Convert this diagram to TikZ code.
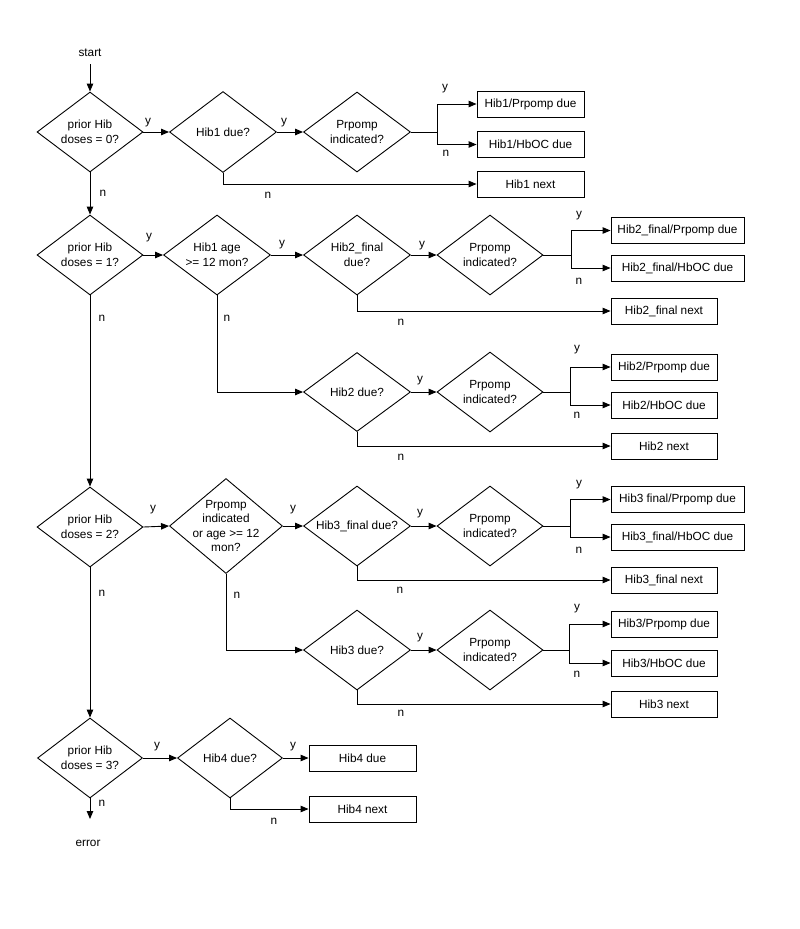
\documentclass[tikz,border=0pt]{standalone}
\usepackage{fontspec}
\setmainfont{Liberation Sans}
\usetikzlibrary{shapes.geometric,arrows.meta}
\newcommand{\fsz}{\fontsize{11.8}{14.5}\selectfont}
\tikzset{
  dia/.style={draw, shape=diamond, inner sep=0pt, line width=0.9pt},
  txt/.style={align=center, font=\fsz, inner sep=0pt},
  box/.style={draw, rectangle, minimum height=26, inner sep=0pt, line width=0.9pt, font=\fsz},
  arr/.style={-{Triangle[length=8pt,width=6.5pt]}, line width=0.9pt},
  ln/.style={line width=0.9pt},
  lab/.style={font=\fsz, inner sep=0pt}
}
\begin{document}
\begin{tikzpicture}[x=1pt,y=-1pt]
\useasboundingbox (0,0) rectangle (800,929);
% ---------- main column ----------
\node[lab] (start) at (90,53) {start};
\node[dia, minimum width=106, minimum height=80] (d0) at (90,132) {};
\node[txt] (d0t) at (d0) {prior Hib\\doses = 0?};
\node[dia, minimum width=106, minimum height=80] (d1) at (90,255) {};
\node[txt] (d1t) at (d1) {prior Hib\\doses = 1?};
\node[dia, minimum width=106, minimum height=80] (d2) at (90,527) {};
\node[txt] (d2t) at (d2) {prior Hib\\doses = 2?};
\node[dia, minimum width=105, minimum height=80] (d3) at (90,758) {};
\node[txt] (d3t) at (d3) {prior Hib\\doses = 3?};
\node[lab] (err) at (88,843) {error};
\coordinate (errtop) at (90,819);

% ---------- row 1 ----------
\node[dia, minimum width=107, minimum height=81] (h1) at (223,132) {};
\node[txt] (h1t) at (h1) {Hib1 due?};
\node[dia, minimum width=107, minimum height=80] (p1) at (357,132) {};
\node[txt] (p1t) at (p1) {Prpomp\\indicated?};
\coordinate (br1) at (437,132);
\node[box, minimum width=107] (b1a) at (530.5,104) {Hib1/Prpomp due};
\node[box, minimum width=107] (b1b) at (530.5,144.5) {Hib1/HbOC due};
\node[box, minimum width=107] (b1n) at (530.5,184) {Hib1 next};

% ---------- row 2 ----------
\node[dia, minimum width=107, minimum height=80] (a1) at (217,255) {};
\node[txt] (a1t) at (a1) {Hib1 age\\>= 12 mon?};
\node[dia, minimum width=107, minimum height=80] (f2) at (357,255) {};
\node[txt] (f2t) at (f2) {Hib2\_final\\due?};
\node[dia, minimum width=106, minimum height=80] (p2) at (490,255) {};
\node[txt] (p2t) at (p2) {Prpomp\\indicated?};
\coordinate (br2) at (571,255);
\node[box, minimum width=133] (b2a) at (677.5,230.5) {Hib2\_final/Prpomp due};
\node[box, minimum width=133] (b2b) at (677.5,268) {Hib2\_final/HbOC due};
\node[box, minimum width=106] (b2n) at (664,311) {Hib2\_final next};

% ---------- row 3 ----------
\node[dia, minimum width=107, minimum height=79] (h2) at (357,392) {};
\node[txt] (h2t) at (h2) {Hib2 due?};
\node[dia, minimum width=106, minimum height=80] (p3) at (490,392) {};
\node[txt] (p3t) at (p3) {Prpomp\\indicated?};
\coordinate (br3) at (570,392);
\node[box, minimum width=106] (b3a) at (664,367) {Hib2/Prpomp due};
\node[box, minimum width=106] (b3b) at (664,405) {Hib2/HbOC due};
\node[box, minimum width=106] (b3n) at (664,446) {Hib2 next};

% ---------- row 4 ----------
\node[dia, minimum width=113, minimum height=95] (a2) at (226,526) {};
\node[txt] (a2t) at (a2) {Prpomp\\indicated\\or age >= 12\\mon?};
\node[dia, minimum width=107, minimum height=80] (f3) at (357,526) {};
\node[txt] (f3t) at (f3) {Hib3\_final due?};
\node[dia, minimum width=106, minimum height=80] (p4) at (490,526) {};
\node[txt] (p4t) at (p4) {Prpomp\\indicated?};
\coordinate (br4) at (570,526);
\node[box, minimum width=133] (b4a) at (677.5,499.5) {Hib3 final/Prpomp due};
\node[box, minimum width=133] (b4b) at (677.5,537) {Hib3\_final/HbOC due};
\node[box, minimum width=106] (b4n) at (664,580) {Hib3\_final next};

% ---------- row 5 ----------
\node[dia, minimum width=107, minimum height=80] (h3) at (357,650) {};
\node[txt] (h3t) at (h3) {Hib3 due?};
\node[dia, minimum width=106, minimum height=80] (p5) at (490,650) {};
\node[txt] (p5t) at (p5) {Prpomp\\indicated?};
\coordinate (br5) at (569,650);
\node[box, minimum width=106] (b5a) at (664,624) {Hib3/Prpomp due};
\node[box, minimum width=106] (b5b) at (664,663) {Hib3/HbOC due};
\node[box, minimum width=106] (b5n) at (664,704) {Hib3 next};

% ---------- row 6 ----------
\node[dia, minimum width=105, minimum height=80] (h4) at (230,758) {};
\node[txt] (h4t) at (h4) {Hib4 due?};
\node[box, minimum width=107] (b6a) at (362.5,758) {Hib4 due};
\node[box, minimum width=107] (b6n) at (362.5,809) {Hib4 next};

% ---------- main trunk ----------
\draw[arr, shorten <=7pt] (start.south) -- (d0.north);
\draw[arr] (d0.south) -- (d1.north);
\draw[arr] (d1.south) -- (d2.north);
\draw[arr] (d2.south) -- (d3.north);
\draw[arr] (d3.south) -- (errtop);

% ---------- connectors row 1 ----------
\draw[arr] (d0.east) -- (h1.west);
\draw[arr] (h1.east) -- (p1.west);
\draw[ln] (p1.east) -- (br1);
\draw[arr] (br1) |- (b1a.west);
\draw[arr] (br1) |- (b1b.west);
\draw[arr] (h1.south) |- (b1n.west);

% ---------- connectors row 2 ----------
\draw[arr] (d1.east) -- (a1.west);
\draw[arr] (a1.east) -- (f2.west);
\draw[arr] (f2.east) -- (p2.west);
\draw[ln] (p2.east) -- (br2);
\draw[arr] (br2) |- (b2a.west);
\draw[arr] (br2) |- (b2b.west);
\draw[arr] (f2.south) |- (b2n.west);

% ---------- connectors row 3 ----------
\draw[arr] (a1.south) |- (h2.west);
\draw[arr] (h2.east) -- (p3.west);
\draw[ln] (p3.east) -- (br3);
\draw[arr] (br3) |- (b3a.west);
\draw[arr] (br3) |- (b3b.west);
\draw[arr] (h2.south) |- (b3n.west);

% ---------- connectors row 4 ----------
\draw[arr] (d2.east) -- (a2.west);
\draw[arr] (a2.east) -- (f3.west);
\draw[arr] (f3.east) -- (p4.west);
\draw[ln] (p4.east) -- (br4);
\draw[arr] (br4) |- (b4a.west);
\draw[arr] (br4) |- (b4b.west);
\draw[arr] (f3.south) |- (b4n.west);

% ---------- connectors row 5 ----------
\draw[arr] (a2.south) |- (h3.west);
\draw[arr] (h3.east) -- (p5.west);
\draw[ln] (p5.east) -- (br5);
\draw[arr] (br5) |- (b5a.west);
\draw[arr] (br5) |- (b5b.west);
\draw[arr] (h3.south) |- (b5n.west);

% ---------- connectors row 6 ----------
\draw[arr] (d3.east) -- (h4.west);
\draw[arr] (h4.east) -- (b6a.west);
\draw[arr] (h4.south) |- (b6n.west);

% ---------- labels ----------
% row 1
\node[lab] (l1) at (148,123) {y};
\node[lab] (l2) at (284,123) {y};
\node[lab] (l3) at (445,89) {y};
\node[lab] (l4) at (446,153) {n};
\node[lab] (l5) at (268,195) {n};
\node[lab] (l6) at (103,193) {n};
% row 2
\node[lab] (l7) at (149,238) {y};
\node[lab] (l8) at (282,245) {y};
\node[lab] (l9) at (422,246) {y};
\node[lab] (l10) at (579,216) {y};
\node[lab] (l11) at (579,281) {n};
\node[lab] (l12) at (401,322) {n};
\node[lab] (l13) at (102,318) {n};
\node[lab] (l14) at (227,318) {n};
% row 3
\node[lab] (l15) at (420,381) {y};
\node[lab] (l16) at (577,350) {y};
\node[lab] (l17) at (577,415) {n};
\node[lab] (l18) at (401,457) {n};
% row 4
\node[lab] (l19) at (153,510) {y};
\node[lab] (l20) at (293,510) {y};
\node[lab] (l21) at (420,514) {y};
\node[lab] (l22) at (579,485) {y};
\node[lab] (l23) at (579,550) {n};
\node[lab] (l24) at (400,590) {n};
\node[lab] (l25) at (102,593) {n};
\node[lab] (l26) at (237,595) {n};
% row 5
\node[lab] (l27) at (420,638) {y};
\node[lab] (l28) at (577,609) {y};
\node[lab] (l29) at (577,674) {n};
\node[lab] (l30) at (401,713) {n};
% row 6
\node[lab] (l31) at (157,747) {y};
\node[lab] (l32) at (293,747) {y};
\node[lab] (l33) at (274,821) {n};
\node[lab] (l34) at (102,803) {n};
\end{tikzpicture}
\end{document}
